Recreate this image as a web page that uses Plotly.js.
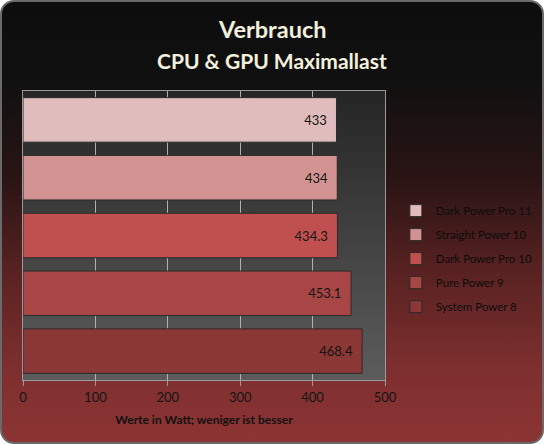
<!DOCTYPE html>
<html><head><meta charset="utf-8">
<script src="https://cdn.plot.ly/plotly-3.0.1.min.js"></script>
<style>
html,body{margin:0;padding:0;background:#fff;}
#wrap{position:absolute;left:0;top:0;width:540px;height:440px;border:2px solid #6a6a6a;border-radius:14px;overflow:hidden;
background:linear-gradient(to bottom,#0d0d0d 0%,#111010 18%,#2a1414 40%,#5a2222 62%,#7c2e2e 82%,#8c3434 100%);}
#chart{position:absolute;left:-2px;top:-2px;width:544px;height:444px;}
</style></head>
<body><div id="wrap"><div id="chart"></div></div>
<script>
var names = ["Dark Power Pro 11","Straight Power 10","Dark Power Pro 10","Pure Power 9","System Power 8"];
var values = [433, 434, 434.3, 453.1, 468.4];
var labels = ["433","434","434.3","453.1","468.4"];
var colors = ["#e0bcbc","#d39393","#c0504f","#a84645","#8b3736"];
var xTicks = [0,100,200,300,400,500];

var traces = names.map(function(n,i){
  return {type:'bar', orientation:'h', name:n, legendgroup:'g'+i,
    y:[n], x:[values[i]], text:[labels[i] + '\u00a0\u00a0'], textposition:'inside', insidetextanchor:'end',
    textfont:{family:'Lato, sans-serif', size:13, color:'#141414'},
    marker:{color:colors[i], line:{color:'#2b2b2b', width:1}}, width:0.77,
    hoverinfo:'x+name'};
});

var grad = 'data:image/svg+xml;utf8,' + encodeURIComponent('<svg xmlns="http://www.w3.org/2000/svg" width="10" height="100" preserveAspectRatio="none"><defs><linearGradient id="g" x1="0" y1="0" x2="0" y2="1"><stop offset="0" stop-color="#252525"/><stop offset="1" stop-color="#5c5c5c"/></linearGradient></defs><rect width="10" height="100" fill="url(#g)"/></svg>');

var tf = 'Lato, sans-serif';
var layout = {
  width:544, height:444,
  paper_bgcolor:'rgba(0,0,0,0)', plot_bgcolor:'rgba(0,0,0,0)',
  margin:{l:23, r:159, t:91, b:64, autoexpand:false},
  barmode:'overlay',
  annotations:[
    {text:'<b>Verbrauch</b>', xref:'paper', yref:'paper', x:0.688, y:1.2145, showarrow:false, xanchor:'center', yanchor:'middle',
      font:{family:tf, size:23.5, color:'#f3f0de'}},
    {text:'<b>CPU & GPU Maximallast</b>', xref:'paper', yref:'paper', x:0.688, y:1.107, showarrow:false, xanchor:'center', yanchor:'middle',
      font:{family:tf, size:21, color:'#f3f0de'}}
  ],
  xaxis:{range:[0,500], tickvals:xTicks, ticks:'outside', ticklen:5, tickcolor:'#9a9a9a',
    showgrid:true, gridcolor:'#b0b0b0', gridwidth:1, zeroline:false,
    showline:true, linecolor:'#9a9a9a', mirror:true,
    tickfont:{family:tf, size:13, color:'#151515'},
    title:{text:'<b>Werte in Watt; weniger ist besser</b>', standoff:12, font:{family:tf, size:12, color:'#111111'}}},
  yaxis:{type:'category', categoryorder:'array', categoryarray:names, autorange:'reversed',
    showticklabels:false, ticks:'', showgrid:false, showline:true, linecolor:'#9a9a9a', mirror:true},
  legend:{x:1.03, xanchor:'left', y:0.42, yanchor:'middle', tracegroupgap:5, itemwidth:30,
    font:{family:tf, size:11.5, color:'#0c0c0c'}, bgcolor:'rgba(0,0,0,0)'},
  images:[{source:grad, xref:'paper', yref:'paper', x:0, y:1, sizex:1, sizey:1, xanchor:'left', yanchor:'top', sizing:'stretch', layer:'below'}],
  showlegend:true
};
Plotly.newPlot('chart', traces, layout, {displayModeBar:false, staticPlot:true});
</script></body></html>
